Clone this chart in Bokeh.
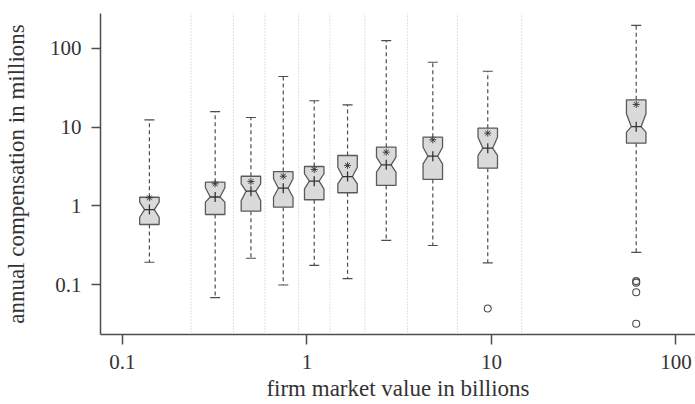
from bokeh.plotting import figure
from bokeh.models import Range1d, FixedTicker, Span
from bokeh.embed import file_html
from bokeh.resources import INLINE

# ---- data ----
positions = [0.14, 0.318, 0.497, 0.744, 1.095, 1.66, 2.69, 4.81, 9.55, 60.9]
q1 = [0.583, 0.78, 0.86, 0.966, 1.20, 1.47, 1.82, 2.17, 3.01, 6.24]
q3 = [1.29, 2.0, 2.38, 2.73, 3.16, 4.36, 5.55, 7.43, 9.66, 22.1]
medians = [0.90, 1.30, 1.54, 1.68, 2.06, 2.36, 3.32, 4.27, 5.39, 10.1]
notch_lo = [0.72, 1.12, 1.17, 1.29, 1.65, 1.91, 2.68, 3.42, 4.36, 8.6]
notch_hi = [1.12, 1.70, 1.91, 2.21, 2.56, 3.10, 4.15, 5.55, 7.43, 14.7]
means = [1.27, 1.91, 2.04, 2.38, 2.90, 3.26, 4.80, 6.89, 8.35, 19.3]
whisk_lo = [0.194, 0.069, 0.218, 0.100, 0.177, 0.120, 0.366, 0.316, 0.191, 0.258]
whisk_hi = [12.3, 15.7, 13.2, 43.6, 21.5, 19.1, 124, 66, 50.8, 193]
outlier_x = [9.55, 60.9, 60.9, 60.9, 60.9]
outlier_y = [0.0504, 0.112, 0.107, 0.081, 0.0323]
bin_edges = [0.2355, 0.399, 0.592, 0.902, 1.332, 2.06, 3.51, 6.54, 14.6]
tick_vals = [0.1, 1, 10, 100]
tick_labels = ["0.1", "1", "10", "100"]
x_title = "firm market value in billions"
y_title = "annual compensation in millions"

FONT = "Liberation Serif"
DARK = "#4d4d4d"

X0, X1 = -1.119, 2.106   # log10 of x range
Y0, Y1 = -1.627, 2.437   # log10 of y range

p = figure(width=695, height=404, x_axis_type="log", y_axis_type="log",
           x_range=Range1d(10 ** X0, 10 ** X1),
           y_range=Range1d(10 ** Y0, 10 ** Y1),
           output_backend="svg", toolbar_location=None,
           min_border_left=99, min_border_right=0, min_border_top=13,
           min_border_bottom=70)
p.outline_line_color = None
p.xgrid.visible = False
p.ygrid.visible = False
p.background_fill_color = "white"
p.border_fill_color = "white"

# vertical dotted bin separators
for e in bin_edges:
    p.add_layout(Span(location=e, dimension="height", line_color="#c4c4c4",
                      line_dash="1 2", line_width=1))

# whiskers
p.segment(x0=positions, y0=q3, x1=positions, y1=whisk_hi,
          line_color=DARK, line_dash="4 3", line_width=1.2)
p.segment(x0=positions, y0=q1, x1=positions, y1=whisk_lo,
          line_color=DARK, line_dash="4 3", line_width=1.2)
p.scatter(positions, whisk_hi, marker="dash", size=10, line_color=DARK, line_width=1.2)
p.scatter(positions, whisk_lo, marker="dash", size=10, line_color=DARK, line_width=1.2)

# notched boxes
hw = 10 ** 0.0528
hw2 = 10 ** 0.0264
xs, ys = [], []
for c, a, b, m, nl, nh in zip(positions, q1, q3, medians, notch_lo, notch_hi):
    L, R = c / hw, c * hw
    Lw, Rw = c / hw2, c * hw2
    xs.append([L, R, R, Rw, R, R, L, L, Lw, L])
    ys.append([b, b, nh, m, nl, a, a, nl, m, nh])
p.patches(xs, ys, fill_color="#dadada", line_color="#5a5a5a", line_width=1.3)

# median (+) and mean (*)
p.scatter(positions, medians, marker="cross", size=10, line_color="#333333", line_width=1.3)
p.scatter(positions, means, marker="asterisk", size=7, line_color="#333333", line_width=0.9)

# outliers
p.scatter(outlier_x, outlier_y, marker="circle", size=7, fill_color=None,
          line_color=DARK, line_width=1.1)

overrides = {v: t for v, t in zip(tick_vals, tick_labels)}
for ax in (p.xaxis[0], p.yaxis[0]):
    ax.ticker = FixedTicker(ticks=tick_vals, minor_ticks=[])
    ax.major_label_overrides = overrides
    ax.minor_tick_line_color = None
    ax.major_tick_in = 0
    ax.axis_line_color = DARK
    ax.major_tick_line_color = DARK
    ax.axis_line_width = 1.5
    ax.major_tick_line_width = 1.5
    ax.major_label_text_font = FONT
    ax.major_label_text_font_size = "21px"
    ax.major_label_text_line_height = 1.0
    ax.major_label_text_color = "#333333"
    ax.axis_label_text_font = FONT
    ax.axis_label_text_font_size = "23px"
    ax.axis_label_text_line_height = 1.0
    ax.axis_label_text_font_style = "normal"
    ax.axis_label_text_color = "#333333"

p.xaxis.axis_label = x_title
p.yaxis.axis_label = y_title
p.xaxis.major_tick_out = 10
p.yaxis.major_tick_out = 9
p.xaxis.major_label_standoff = 10
p.yaxis.major_label_standoff = 10
p.xaxis.axis_label_standoff = 4
p.yaxis.axis_label_standoff = 18

open("out.html", "w").write(file_html(p, INLINE))
